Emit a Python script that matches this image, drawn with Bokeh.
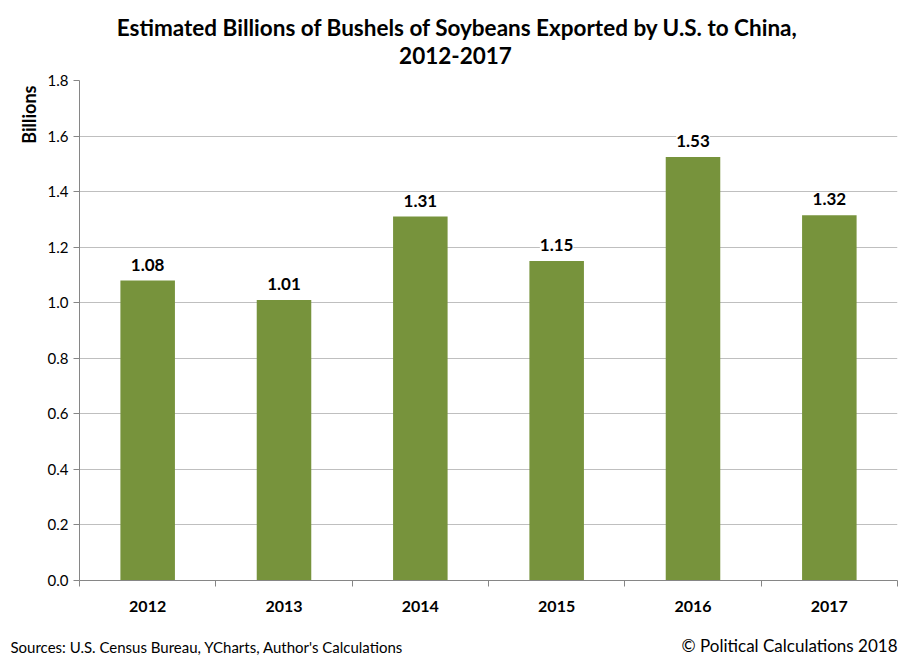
from bokeh.plotting import figure
from bokeh.layouts import column
from bokeh.models import (ColumnDataSource, Range1d, FixedTicker, LabelSet, Label,
                          NumeralTickFormatter, Title)
from bokeh.core.properties import value
from bokeh.embed import file_html
from bokeh.resources import INLINE

years = ["2012", "2013", "2014", "2015", "2016", "2017"]
values = [1.08, 1.01, 1.31, 1.15, 1.525, 1.315]
labels = ["1.08", "1.01", "1.31", "1.15", "1.53", "1.32"]
y_ticks = [0.0, 0.2, 0.4, 0.6, 0.8, 1.0, 1.2, 1.4, 1.6, 1.8]

title_1 = "Estimated Billions of Bushels of Soybeans Exported by U.S. to China,"
title_2 = "2012-2017"
source_note = "Sources: U.S. Census Bureau, YCharts, Author's Calculations"
credit_note = "\u00a9 Political Calculations 2018"

FONT = "Lato"
BAR = "#77933C"
W = 903


def text_panel(height):
    f = figure(width=W, height=height, output_backend="svg", toolbar_location=None,
               x_axis_type=None, y_axis_type=None, min_border=0,
               x_range=Range1d(0, 1), y_range=Range1d(0, 1), frame_align=False)
    f.outline_line_color = None
    f.xgrid.visible = False
    f.ygrid.visible = False
    f.background_fill_color = "white"
    f.border_fill_color = "white"
    return f


def add_text(f, text, x, y, size, bold=False, align="center"):
    f.add_layout(Label(x=x, y=y, x_units="screen", y_units="screen", text=text,
                       text_font=FONT, text_font_size=size,
                       text_font_style="bold" if bold else "normal",
                       text_align=align, text_baseline="middle", text_color="black"))


# ---- title panel
top = text_panel(70)
add_text(top, title_1, 457, 43, "22.5px", bold=True)
add_text(top, title_2, 455, 15, "22.5px", bold=True)

# ---- main chart
xs = list(range(len(years)))
src = ColumnDataSource(dict(x=xs, top=values, lab=labels))

p = figure(width=W, height=560, output_backend="svg", toolbar_location=None,
           x_range=Range1d(-0.5, len(years) - 0.5), y_range=Range1d(0, 1.8),
           min_border_left=79, min_border_right=6, min_border_top=10,
           min_border_bottom=50, frame_align=False)
p.outline_line_color = None
p.background_fill_color = "white"
p.border_fill_color = "white"

p.vbar(x="x", top="top", width=0.4, source=src, fill_color=BAR, line_color=None)

p.add_layout(LabelSet(x="x", y="top", text="lab", source=src, y_offset=10,
                      text_align="center", text_baseline="bottom",
                      text_font=value(FONT), text_font_style="bold", text_font_size="17px",
                      text_color="black", background_fill_color="white"))

p.xaxis.ticker = FixedTicker(ticks=xs, minor_ticks=[i - 0.5 for i in range(len(years) + 1)])
p.xaxis.major_label_overrides = {i: y for i, y in enumerate(years)}
p.xaxis.major_tick_out = 0
p.xaxis.major_tick_in = 0
p.xaxis.minor_tick_out = 6
p.xaxis.minor_tick_in = 0
p.xaxis.minor_tick_line_color = "#868686"
p.xaxis.axis_line_color = "#868686"
p.xaxis.major_label_text_font = FONT
p.xaxis.major_label_text_font_style = "bold"
p.xaxis.major_label_text_font_size = "16px"
p.xaxis.major_label_text_color = "black"
p.xaxis.major_label_standoff = 14

p.yaxis.ticker = FixedTicker(ticks=y_ticks)
p.yaxis.formatter = NumeralTickFormatter(format="0.0")
p.yaxis.major_tick_out = 6
p.yaxis.major_tick_in = 0
p.yaxis.minor_tick_out = 0
p.yaxis.major_tick_line_color = "#868686"
p.yaxis.axis_line_color = "#868686"
p.yaxis.major_label_text_font = FONT
p.yaxis.major_label_text_font_size = "15px"
p.yaxis.major_label_text_color = "black"
p.yaxis.major_label_standoff = 5

p.xgrid.grid_line_color = None
p.ygrid.grid_line_color = "#BFBFBF"
p.ygrid.ticker = FixedTicker(ticks=y_ticks)

p.add_layout(Title(text="Billions", align="right", offset=5,
                   text_font=FONT, text_font_size="18px", text_font_style="bold",
                   text_color="black", standoff=9), "left")

# ---- footer panel
foot = text_panel(30)
add_text(foot, source_note, 10, 14, "15px", align="left")
add_text(foot, credit_note, 897, 15, "17px", align="right")

layout = column(top, p, foot, spacing=0)
open("out.html", "w").write(file_html(layout, INLINE))
